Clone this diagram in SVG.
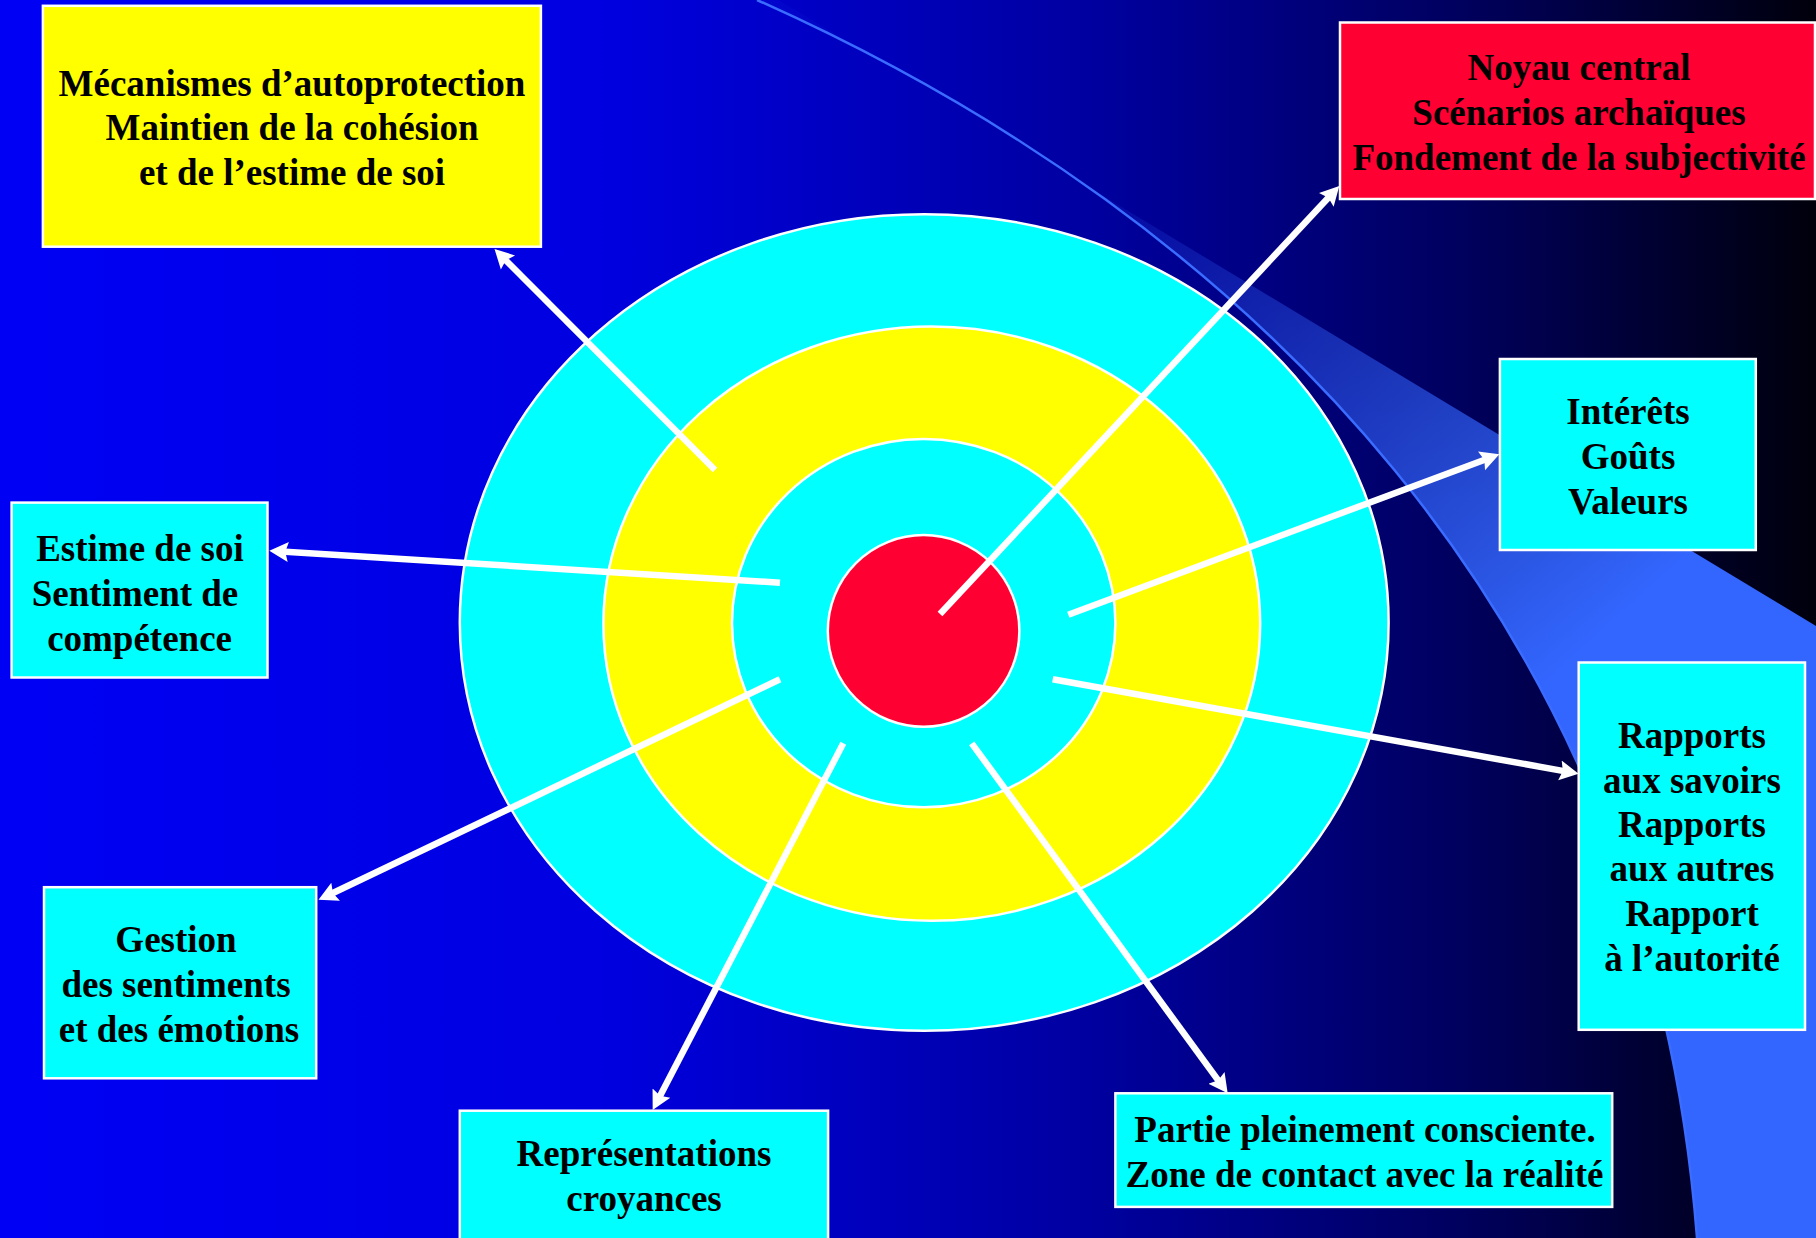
<svg xmlns="http://www.w3.org/2000/svg" width="1816" height="1238" viewBox="0 0 1816 1238">
  <defs>
    <linearGradient id="bg" x1="0" y1="0" x2="1816" y2="0" gradientUnits="userSpaceOnUse">
      <stop offset="0" stop-color="#0000f5"/>
      <stop offset="0.33" stop-color="#0000e0"/>
      <stop offset="0.6" stop-color="#0000a0"/>
      <stop offset="0.8" stop-color="#000060"/>
      <stop offset="1" stop-color="#00000c"/>
    </linearGradient>
    <linearGradient id="wedge" x1="1085" y1="185" x2="1540" y2="690" gradientUnits="userSpaceOnUse">
      <stop offset="0" stop-color="#3366ff" stop-opacity="0.05"/>
      <stop offset="1" stop-color="#3366ff" stop-opacity="1"/>
    </linearGradient>
    <clipPath id="belowLine">
      <polygon points="500,-168 1816,626 1816,1238 500,1238"/>
    </clipPath>
    <marker id="arrow" markerUnits="userSpaceOnUse" viewBox="0 -11 22 22" markerWidth="22" markerHeight="22" refX="7" refY="0" orient="auto">
      <path d="M0,-10 L19,0 L0,10 L3,0 Z" fill="#ffffff"/>
    </marker>
    <style>
      .box { stroke: #ffffff; stroke-width: 2.5; }
      .ring { stroke: #ffffff; stroke-width: 2.5; }
      .lbl { font-family: "Liberation Serif", "Times New Roman", serif; font-weight: bold; font-size: 37px; fill: #000000; text-anchor: middle; }
      .conn { stroke: #ffffff; stroke-width: 6.5; fill: none; marker-end: url(#arrow); }
    </style>
  </defs>

  <!-- background -->
  <rect x="0" y="0" width="1816" height="1238" fill="url(#bg)"/>
  <g id="decor">
    <path d="M757,0 C1250,220 1650,620 1697,1238 L1816,1238 L1816,0 Z" fill="url(#wedge)" clip-path="url(#belowLine)"/>
    <path d="M757,0 C1250,220 1650,620 1697,1238" fill="none" stroke="#3a6cff" stroke-width="2.5"/>
  </g>

  <!-- target -->
  <g id="target">
    <ellipse class="ring" cx="924.2" cy="622.5" rx="464.4" ry="408.3" fill="#00ffff"/>
    <ellipse class="ring" cx="931.8" cy="623.7" rx="328.4" ry="297.1" fill="#ffff00"/>
    <ellipse class="ring" cx="923.7" cy="623.1" rx="191.7" ry="184.2" fill="#00ffff"/>
    <ellipse class="ring" cx="923.6" cy="630.9" rx="95.8" ry="95.8" fill="#ff0033"/>
  </g>

  <!-- connectors -->
  <g id="connectors">
    <line class="conn" x1="715" y1="470" x2="503.0" y2="257.5"/>
    <line class="conn" x1="940" y1="614" x2="1331.1" y2="194.8"/>
    <line class="conn" x1="1068.3" y1="614.7" x2="1488.1" y2="458.5"/>
    <line class="conn" x1="1052.7" y1="679.3" x2="1566.8" y2="771.6"/>
    <line class="conn" x1="971.7" y1="743.3" x2="1220.6" y2="1083.6"/>
    <line class="conn" x1="843.3" y1="743.3" x2="658.2" y2="1099.4"/>
    <line class="conn" x1="780" y1="679.3" x2="329.3" y2="894.7"/>
    <line class="conn" x1="780" y1="582.7" x2="281.3" y2="551.5"/>
  </g>

  <!-- nodes -->
  <g id="node-mecanismes">
    <rect class="box" x="42.9" y="5.8" width="498" height="240.9" fill="#ffff00"/>
    <text class="lbl" x="292" y="96">Mécanismes d’autoprotection</text>
    <text class="lbl" x="292" y="140">Maintien de la cohésion</text>
    <text class="lbl" x="292" y="185">et de l’estime de soi</text>
  </g>

  <g id="node-noyau">
    <rect class="box" x="1340" y="22.5" width="475" height="176.5" fill="#ff0033"/>
    <text class="lbl" x="1579" y="80">Noyau central</text>
    <text class="lbl" x="1579" y="125">Scénarios archaïques</text>
    <text class="lbl" x="1579" y="170">Fondement de la subjectivité</text>
  </g>

  <g id="node-interets">
    <rect class="box" x="1499.9" y="359" width="255.9" height="191" fill="#00ffff"/>
    <text class="lbl" x="1628" y="424">Intérêts</text>
    <text class="lbl" x="1628" y="469">Goûts</text>
    <text class="lbl" x="1628" y="514">Valeurs</text>
  </g>

  <g id="node-estime">
    <rect class="box" x="11.6" y="502.6" width="255.9" height="174.9" fill="#00ffff"/>
    <text class="lbl" x="140" y="560.6">Estime de soi</text>
    <text class="lbl" x="135" y="605.7">Sentiment de</text>
    <text class="lbl" x="139.6" y="651">compétence</text>
  </g>

  <g id="node-rapports">
    <rect class="box" x="1578.7" y="662.5" width="226.3" height="367.3" fill="#00ffff"/>
    <text class="lbl" x="1692" y="748">Rapports</text>
    <text class="lbl" x="1692" y="792.5">aux savoirs</text>
    <text class="lbl" x="1692" y="837">Rapports</text>
    <text class="lbl" x="1692" y="881">aux autres</text>
    <text class="lbl" x="1692" y="926">Rapport</text>
    <text class="lbl" x="1692" y="970.5">à l’autorité</text>
  </g>

  <g id="node-gestion">
    <rect class="box" x="44" y="887.2" width="272.2" height="191.1" fill="#00ffff"/>
    <text class="lbl" x="176" y="952">Gestion</text>
    <text class="lbl" x="176" y="997">des sentiments</text>
    <text class="lbl" x="179" y="1042">et des émotions</text>
  </g>

  <g id="node-representations">
    <rect class="box" x="459.8" y="1110.7" width="368.3" height="135" fill="#00ffff"/>
    <text class="lbl" x="644" y="1166">Représentations</text>
    <text class="lbl" x="644" y="1211">croyances</text>
  </g>

  <g id="node-partie">
    <rect class="box" x="1115.4" y="1093.3" width="496.8" height="113.6" fill="#00ffff"/>
    <text class="lbl" x="1365" y="1142">Partie pleinement consciente.</text>
    <text class="lbl" x="1364.5" y="1187">Zone de contact avec la réalité</text>
  </g>
</svg>
